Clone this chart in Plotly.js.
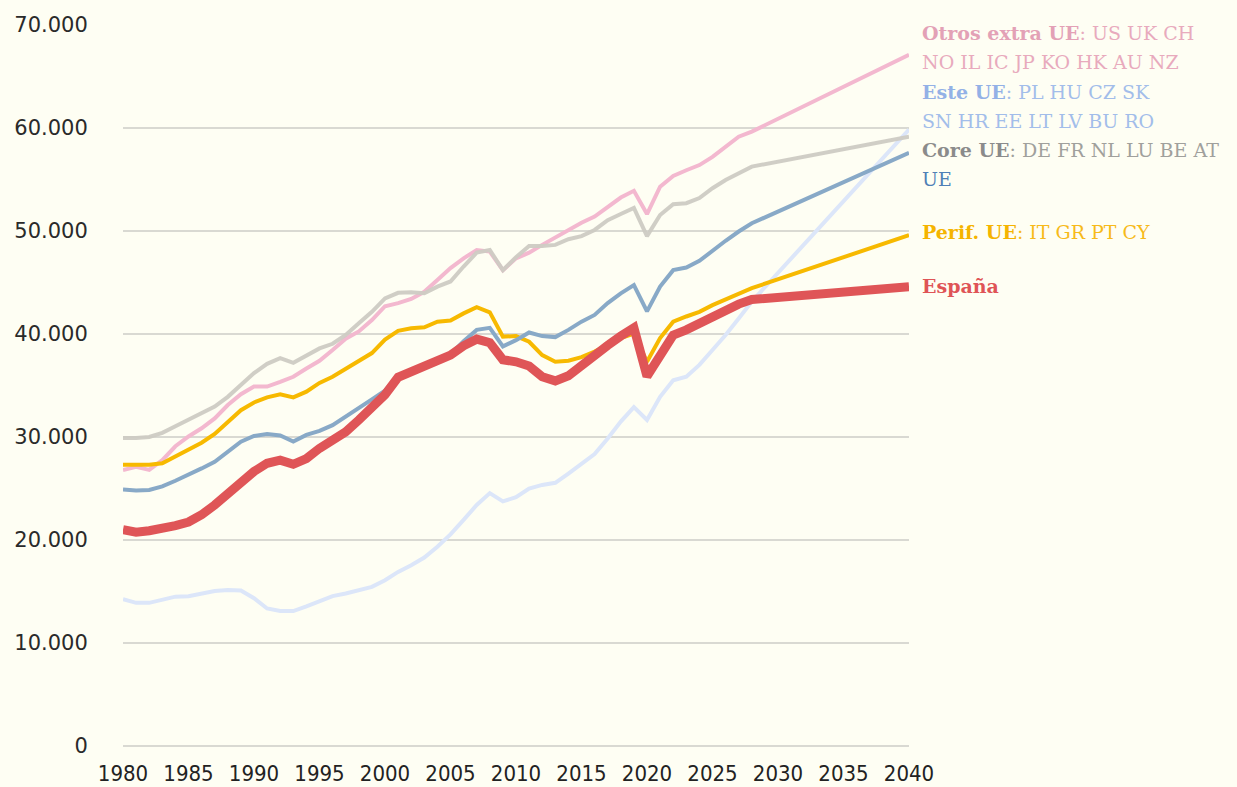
<!DOCTYPE html>
<html>
<head>
<meta charset="utf-8">
<script src="https://cdn.plot.ly/plotly-3.0.1.min.js"></script>
<style>
  html, body { margin: 0; padding: 0; background: #fefef3; }
  #chart { width: 1237px; height: 787px; }
</style>
</head>
<body>
<div id="chart"></div>
<script>
// Years 1980–2040 (projection shown as straight segments 2028 → 2040)
const years = [];
for (let y = 1980; y <= 2040; y++) years.push(y);
const gap = [null, null, null, null, null, null, null, null, null, null, null]; // 2029–2039

const espana = [21000, 20750, 20900, 21100, 21400, 21750, 22450, 23400, 24550, 25650,
  26650, 27450, 27750, 27350, 27900, 28900, 29600, 30500, 31650, 32800,
  34100, 35800, 36300, 36750, 37300, 37950, 38850, 39500, 39150, 37500,
  37300, 36900, 35850, 35450, 35950, 37000, 37950, 38900, 39800, 40600,
  35900, 38100, 39900, 40400, 41050, 41700, 42300, 42900, 43350].concat(gap, [44600]);

const perif = [27300, 27300, 27300, 27450, 28100, 28750, 29450, 30300, 31500, 32600,
  33350, 33850, 34150, 33850, 34400, 35250, 35850, 36650, 37450, 38150,
  39450, 40300, 40550, 40650, 41200, 41300, 42000, 42600, 42100, 39750,
  39800, 39250, 37950, 37300, 37400, 37750, 38300, 39000, 39600, 40050,
  37300, 39600, 41200, 41700, 42150, 42800, 43350, 43950, 44450].concat(gap, [49600]);

const ue = [24900, 24800, 24850, 25200, 25750, 26300, 26950, 27600, 28550, 29550,
  30100, 30300, 30150, 29550, 30200, 30600, 31150, 31950, 32800, 33650,
  34500, 35950, 36400, 36800, 37400, 38050, 39300, 40400, 40600, 38800,
  39400, 40150, 39800, 39700, 40400, 41200, 41850, 43000, 43950, 44750,
  42200, 44600, 46200, 46450, 47100, 48100, 49050, 49950, 50750].concat(gap, [57600]);

const core = [29900, 29900, 30000, 30400, 31050, 31650, 32300, 32950, 33900, 35050,
  36200, 37100, 37650, 37200, 37950, 38600, 39050, 39900, 41050, 42150,
  43450, 44000, 44050, 43950, 44600, 45100, 46550, 47900, 48150, 46200,
  47450, 48550, 48550, 48650, 49200, 49500, 50100, 51050, 51650, 52250,
  49500, 51550, 52600, 52700, 53200, 54150, 54950, 55650, 56250].concat(gap, [59150]);

const otros = [26800, 27100, 26800, 27750, 29100, 30050, 30850, 31800, 33100, 34150,
  34900, 34900, 35350, 35850, 36650, 37400, 38450, 39550, 40250, 41350,
  42700, 43000, 43400, 44100, 45250, 46400, 47350, 48150, 48000, 46200,
  47350, 47900, 48650, 49400, 50100, 50800, 51400, 52300, 53250, 53900,
  51650, 54300, 55350, 55900, 56400, 57200, 58200, 59150, 59650].concat(gap, [67100]);

const este = [14250, 13900, 13900, 14250, 14500, 14550, 14800, 15050, 15150, 15100,
  14350, 13350, 13100, 13100, 13550, 14000, 14550, 14800, 15150, 15450,
  16100, 16900, 17550, 18300, 19350, 20550, 21950, 23400, 24550, 23750,
  24150, 25000, 25350, 25550, 26450, 27450, 28350, 29850, 31500, 32900,
  31650, 33900, 35500, 35850, 37000, 38450, 39900, 41500, 43150].concat(gap, [59850]);

const yTicks = [0, 10000, 20000, 30000, 40000, 50000, 60000, 70000];
const xTicks = [1980, 1985, 1990, 1995, 2000, 2005, 2010, 2015, 2020, 2025, 2030, 2035, 2040];

// Right-hand labels: [group (bold), countries, colour of group, colour of countries]
const labelLines = [
  ["Otros extra UE", ": US UK CH", "#e3a1b6", "#e8aabd"],
  ["", "NO IL IC JP KO HK AU NZ", "#e3a1b6", "#e8aabd"],
  ["Este UE", ": PL HU CZ SK", "#93b1e6", "#a2bdea"],
  ["", "SN HR EE LT LV BU RO", "#93b1e6", "#a2bdea"],
  ["Core UE", ": DE FR NL LU BE AT", "#8b8b8b", "#a0a09c"],
  ["", "UE", "#4f80b6", "#4f80b6"],
  ["Perif. UE", ": IT GR PT CY", "#f5b400", "#f7ba1a"],
  ["España", "", "#df5456", "#df5456"]
];
const labelY = [33, 62, 92, 121, 150, 179, 232, 286];

function tr(y, color, width, opacity) {
  return {
    x: years, y: y, type: "scatter", mode: "lines", connectgaps: true,
    line: { color: color, width: width, shape: "linear" },
    opacity: opacity === undefined ? 1 : opacity,
    hoverinfo: "skip", showlegend: false
  };
}

const data = [
  tr(este, "#dce6f9", 4),
  tr(otros, "#f3b8cf", 4),
  tr(core, "#cdcbc3", 4, 0.95),
  tr(perif, "#f7b900", 4),
  tr(ue, "#88a9c7", 4),
  tr(espana, "#df5557", 9)
];

const font = "DejaVu Serif, serif";
const annotations = labelLines.map((l, i) => {
  let txt = "";
  if (l[0]) txt += '<span style="font-weight:bold;color:' + l[2] + '">' + l[0] + '</span>';
  if (l[1]) txt += '<span style="color:' + l[3] + '">' + l[1] + '</span>';
  return {
    xref: "paper", yref: "paper",
    x: (920 - 123) / 786, y: (746 - labelY[i]) / 721,
    xanchor: "left", yanchor: "middle", align: "left",
    text: txt, showarrow: false,
    font: { family: font, size: 19, color: l[3] }
  };
});

const layout = {
  width: 1237, height: 787,
  paper_bgcolor: "#fefef3", plot_bgcolor: "#fefef3",
  margin: { l: 123, r: 328, t: 25, b: 41, pad: 0 },
  separators: ",.",
  showlegend: false,
  xaxis: {
    range: [1980, 2040], tickvals: xTicks, ticktext: xTicks.map(String),
    showgrid: false, zeroline: false, showline: false,
    ticks: "outside", ticklen: 8, tickcolor: "rgba(0,0,0,0)",
    tickfont: { family: "DejaVu Sans Condensed, DejaVu Sans, sans-serif", size: 22, color: "#222" }
  },
  yaxis: {
    range: [0, 70000], tickvals: yTicks, tickformat: ",d",
    showgrid: true, gridcolor: "#d9d9d2", gridwidth: 1.5,
    zeroline: true, zerolinecolor: "#d9d9d2", zerolinewidth: 2, showline: false,
    ticks: "outside", ticklen: 30, tickcolor: "rgba(0,0,0,0)",
    tickfont: { family: "DejaVu Sans, sans-serif", size: 21, color: "#2a2a2a" }
  },
  annotations: annotations
};

Plotly.newPlot("chart", data, layout, { displayModeBar: false, staticPlot: true });
</script>
</body>
</html>
